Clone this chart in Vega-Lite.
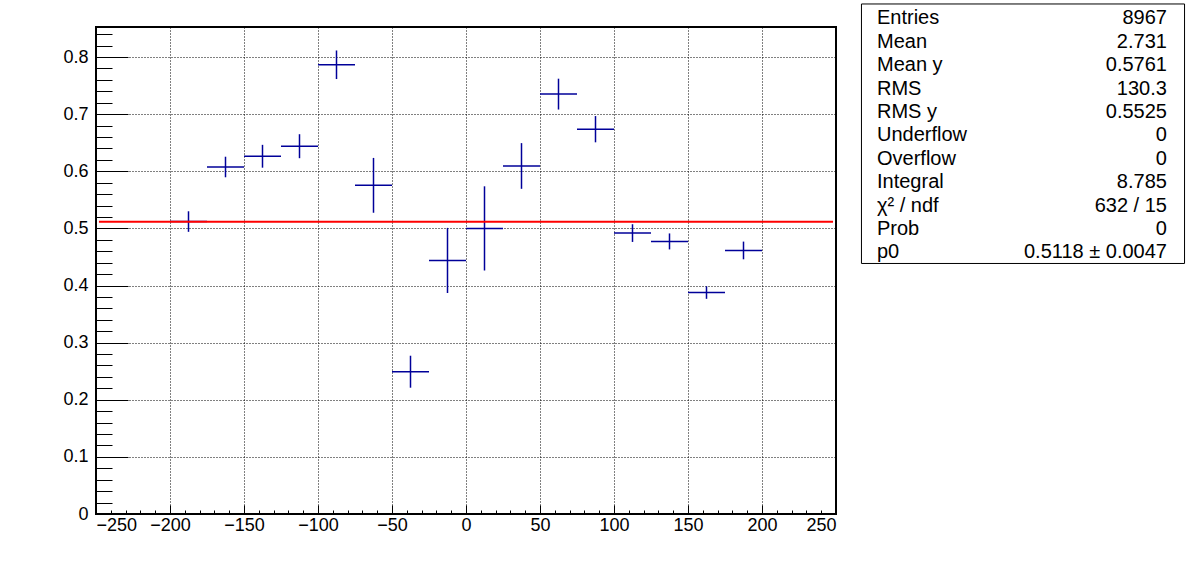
{
  "$schema": "https://vega.github.io/schema/vega-lite/v6.json",
  "width": 740,
  "height": 487,
  "autosize": "none",
  "padding": {"left": 96, "top": 27, "right": 360, "bottom": 58},
  "background": "white",
  "config": {
    "view": {"stroke": "black", "strokeWidth": 2},
    "axis": {
      "labelFont": "Liberation Sans",
      "labelFontSize": 18,
      "labelColor": "black",
      "tickColor": "black",
      "tickWidth": 1,
      "gridColor": "black",
      "gridDash": [1, 2],
      "gridOpacity": 1,
      "gridWidth": 1,
      "domain": false
    },
    "text": {"font": "Liberation Sans"}
  },
  "datasets": {
    "points": [
      {"x": -187.5, "y": 0.512, "ey": 0.018, "ex": 12.5},
      {"x": -162.5, "y": 0.6075, "ey": 0.018, "ex": 12.5},
      {"x": -137.5, "y": 0.6263, "ey": 0.020, "ex": 12.5},
      {"x": -112.5, "y": 0.6439, "ey": 0.021, "ex": 12.5},
      {"x": -87.5, "y": 0.7865, "ey": 0.025, "ex": 12.5},
      {"x": -62.5, "y": 0.5754, "ey": 0.048, "ex": 12.5},
      {"x": -37.5, "y": 0.2491, "ey": 0.028, "ex": 12.5},
      {"x": -12.5, "y": 0.4439, "ey": 0.057, "ex": 12.5},
      {"x": 12.5, "y": 0.5, "ey": 0.0737, "ex": 12.5},
      {"x": 37.5, "y": 0.6093, "ey": 0.040, "ex": 12.5},
      {"x": 62.5, "y": 0.7351, "ey": 0.027, "ex": 12.5},
      {"x": 87.5, "y": 0.6737, "ey": 0.023, "ex": 12.5},
      {"x": 112.5, "y": 0.4918, "ey": 0.0155, "ex": 12.5},
      {"x": 137.5, "y": 0.4772, "ey": 0.014, "ex": 12.5},
      {"x": 162.5, "y": 0.3877, "ey": 0.011, "ex": 12.5},
      {"x": 187.5, "y": 0.4614, "ey": 0.0155, "ex": 12.5}
    ],
    "fit": [{"p0": 0.5118, "from": -248, "to": 248}],
    "box": [{"name": "stats"}],
    "stats": [
      {"row": 0, "label": "Entries", "value": "8967"},
      {"row": 1, "label": "Mean", "value": "2.731"},
      {"row": 2, "label": "Mean y", "value": "0.5761"},
      {"row": 3, "label": "RMS", "value": "130.3"},
      {"row": 4, "label": "RMS y", "value": "0.5525"},
      {"row": 5, "label": "Underflow", "value": "0"},
      {"row": 6, "label": "Overflow", "value": "0"},
      {"row": 7, "label": "Integral", "value": "8.785"},
      {"row": 8, "label": "χ² / ndf", "value": "632 / 15"},
      {"row": 9, "label": "Prob", "value": "0"},
      {"row": 10, "label": "p0", "value": "0.5118 ± 0.0047"}
    ]
  },
  "layer": [
    {
      "layer": [
        {
          "data": {"name": "points"},
          "mark": {"type": "point", "opacity": 0},
          "encoding": {
            "x": {
              "field": "x", "type": "quantitative",
              "scale": {"domain": [-250, 250], "nice": false, "zero": false},
              "axis": {"title": null, "orient": "bottom", "values": [-250, -200, -150, -100, -50, 0, 50, 100, 150, 200, 250], "tickSize": -9, "labelPadding": 11, "grid": true, "format": "d"}
            },
            "y": {
              "field": "y", "type": "quantitative",
              "scale": {"domain": [0, 0.8526], "nice": false, "zero": false},
              "axis": {"title": null, "orient": "left", "values": [0, 0.1, 0.2, 0.3, 0.4, 0.5, 0.6, 0.7, 0.8], "tickSize": -32, "labelPadding": 40, "grid": true, "format": "~g"}
            }
          }
        },
        {
          "data": {"name": "points"},
          "mark": {"type": "point", "opacity": 0},
          "encoding": {
            "x": {
              "field": "x", "type": "quantitative",
              "axis": {"title": null, "orient": "bottom", "labels": false, "grid": false, "tickSize": -4,
                "values": [-250,-240,-230,-220,-210,-200,-190,-180,-170,-160,-150,-140,-130,-120,-110,-100,-90,-80,-70,-60,-50,-40,-30,-20,-10,0,10,20,30,40,50,60,70,80,90,100,110,120,130,140,150,160,170,180,190,200,210,220,230,240,250]}
            },
            "y": {
              "field": "y", "type": "quantitative",
              "axis": {"title": null, "orient": "left", "labels": false, "grid": false, "tickSize": -16,
                "values": [0,0.02,0.04,0.06,0.08,0.1,0.12,0.14,0.16,0.18,0.2,0.22,0.24,0.26,0.28,0.3,0.32,0.34,0.36,0.38,0.4,0.42,0.44,0.46,0.48,0.5,0.52,0.54,0.56,0.58,0.6,0.62,0.64,0.66,0.68,0.7,0.72,0.74,0.76,0.78,0.8,0.82,0.84]}
            }
          }
        },
        {
          "data": {"name": "points"},
          "mark": {"type": "errorbar", "color": "#000099", "thickness": 1.5},
          "encoding": {
            "x": {"field": "x", "type": "quantitative", "axis": null},
            "y": {"field": "y", "type": "quantitative", "axis": null},
            "yError": {"field": "ey"}
          }
        },
        {
          "data": {"name": "points"},
          "mark": {"type": "errorbar", "color": "#000099", "thickness": 1.5},
          "encoding": {
            "x": {"field": "x", "type": "quantitative", "axis": null},
            "xError": {"field": "ex"},
            "y": {"field": "y", "type": "quantitative", "axis": null}
          }
        },
        {
          "data": {"name": "fit"},
          "mark": {"type": "rule", "color": "#ff0000", "strokeWidth": 2},
          "encoding": {
            "x": {"field": "from", "type": "quantitative", "axis": null},
            "x2": {"field": "to"},
            "y": {"field": "p0", "type": "quantitative", "axis": null}
          }
        },
        {
          "data": {"name": "box"},
          "mark": {"type": "rect", "fill": "white", "stroke": "black", "strokeWidth": 1},
          "encoding": {
            "x": {"datum": 267.2, "type": "quantitative", "axis": null},
            "x2": {"datum": 485.5},
            "y": {"datum": 0.8929, "type": "quantitative", "axis": null},
            "y2": {"datum": 0.4386}
          }
        }
      ],
      "resolve": {"axis": {"x": "independent", "y": "independent"}}
    },
    {
      "data": {"name": "stats"},
      "encoding": {
        "y": {"field": "row", "type": "quantitative", "scale": {"domain": [0.107, 20.919], "reverse": true, "nice": false, "zero": false}, "axis": null}
      },
      "layer": [
        {
          "mark": {"type": "text", "align": "left", "baseline": "alphabetic", "fontSize": 20, "color": "black", "font": "Liberation Sans"},
          "encoding": {
            "x": {"datum": 277.7, "type": "quantitative", "axis": null},
            "text": {"field": "label"}
          }
        },
        {
          "mark": {"type": "text", "align": "right", "baseline": "alphabetic", "fontSize": 20, "color": "black", "font": "Liberation Sans"},
          "encoding": {
            "x": {"datum": 473.6, "type": "quantitative", "axis": null},
            "text": {"field": "value"}
          }
        }
      ]
    }
  ],
  "resolve": {"scale": {"y": "independent"}}
}
